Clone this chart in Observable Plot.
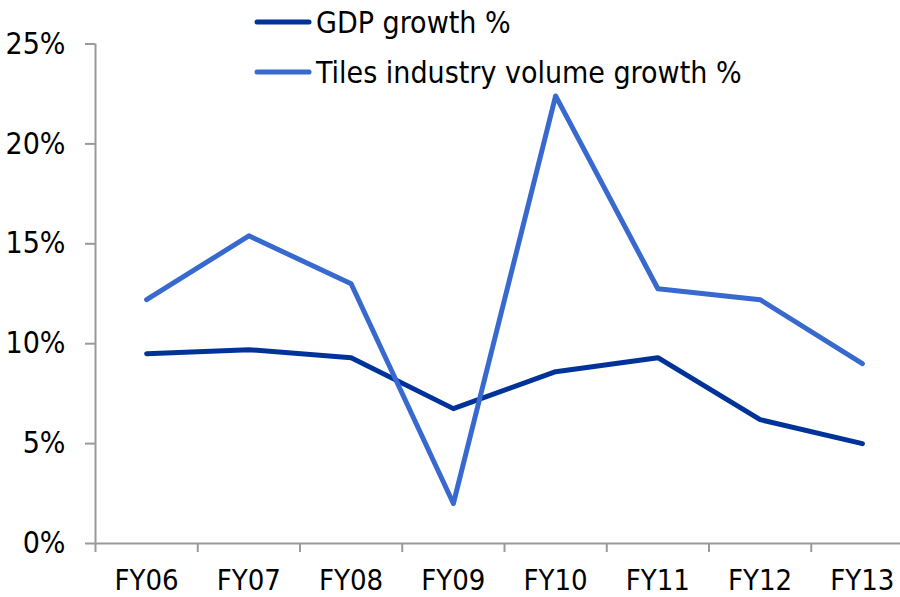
<!DOCTYPE html>
<html>
<head>
<meta charset="utf-8">
<script src="https://cdn.jsdelivr.net/npm/d3@7"></script>
<script src="https://cdn.jsdelivr.net/npm/@observablehq/plot@0.6"></script>
<style>
  html, body { margin: 0; padding: 0; background: #fff; }
  #wrap { position: relative; width: 900px; height: 597px; overflow: hidden;
          font-family: "DejaVu Sans Condensed", "DejaVu Sans", sans-serif; }
  #legend { position: absolute; left: 254px; top: -3px; font-size: 30px; color: #000; }
  .row { display: flex; align-items: center; height: 50px; white-space: nowrap; }
  .row svg { margin-right: 4px; }
</style>
</head>
<body>
<div id="wrap">
  <div id="chart"></div>
  <div id="legend"></div>
</div>
<script>
const categories = ["FY06", "FY07", "FY08", "FY09", "FY10", "FY11", "FY12", "FY13"];
const gdpGrowth = [9.5, 9.7, 9.3, 6.75, 8.6, 9.3, 6.2, 5.0];
const tilesGrowth = [12.2, 15.4, 13.0, 2.0, 22.4, 12.75, 12.2, 9.0];
const yTicks = [0, 5, 10, 15, 20, 25];
const seriesNames = ["GDP growth %", "Tiles industry volume growth %"];
const seriesColors = ["#003399", "#3769CF"];

const rows = [];
categories.forEach((c, i) => {
  rows.push({category: c, pos: i + 0.5, value: gdpGrowth[i], series: seriesNames[0]});
});
categories.forEach((c, i) => {
  rows.push({category: c, pos: i + 0.5, value: tilesGrowth[i], series: seriesNames[1]});
});

const fontFamily = '"DejaVu Sans Condensed", "DejaVu Sans", sans-serif';
const axisColor = "#999";

const chart = Plot.plot({
  width: 900,
  height: 597,
  marginLeft: 95,
  marginRight: 0,
  marginTop: 43.5,
  marginBottom: 54,
  style: {fontFamily, fontSize: "30px", color: "#000", background: "white", overflow: "visible"},
  x: {type: "linear", domain: [0, categories.length], range: [95, 913]},
  y: {domain: [0, 25]},
  color: {domain: seriesNames, range: seriesColors},
  marks: [
    Plot.ruleX([0], {stroke: axisColor, strokeWidth: 2}),
    Plot.ruleY([0], {stroke: axisColor, strokeWidth: 2}),
    Plot.axisY({ticks: yTicks, tickSize: 10, tickPadding: 20, tickFormat: d => d + "%",
                stroke: axisColor, strokeWidth: 2, strokeOpacity: 1, fontSize: 30, fill: "#000", label: null}),
    Plot.axisX({ticks: d3.range(categories.length + 1), tickSize: 9, tickFormat: () => "",
                stroke: axisColor, strokeWidth: 2, strokeOpacity: 1, label: null}),
    Plot.axisX({ticks: categories.map((_, i) => i + 0.5), tickSize: 0, tickPadding: 26,
                tickFormat: d => categories[Math.floor(d)], fontSize: 29, fill: "#000", label: null}),
    Plot.line(rows, {x: "pos", y: "value", z: "series", stroke: "series",
                     strokeWidth: 5, strokeLinecap: "round", strokeLinejoin: "round"})
  ]
});
document.getElementById("chart").appendChild(chart);

const legend = document.getElementById("legend");
seriesNames.forEach((name, i) => {
  const row = document.createElement("div");
  row.className = "row";
  row.innerHTML = `<svg width="58" height="10"><line x1="3" y1="5" x2="55" y2="5" stroke="${seriesColors[i]}" stroke-width="5" stroke-linecap="round"/></svg><span>${name}</span>`;
  legend.appendChild(row);
});
</script>
</body>
</html>
